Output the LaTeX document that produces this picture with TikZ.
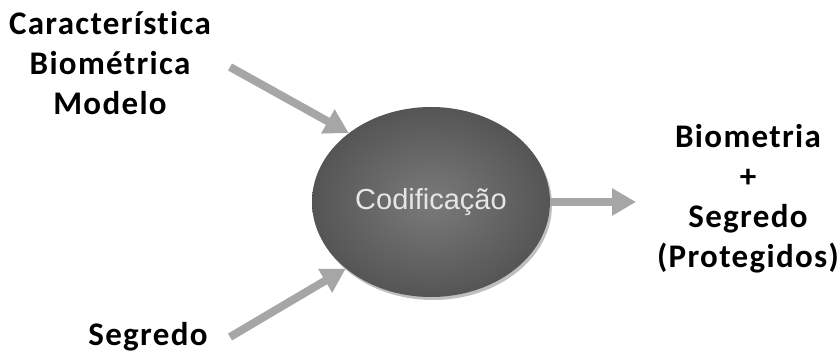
\documentclass[tikz,border=0pt]{standalone}
\usepackage{fontspec}
\setmainfont{Carlito}[Ligatures={NoCommon,NoRare},LetterSpace=4]
\newfontfamily\arialfont{Liberation Sans}[Ligatures={NoCommon}]
\usetikzlibrary{arrows.meta,shapes.geometric,shadows}
\definecolor{arrowgray}{HTML}{A6A6A6}
\definecolor{ballin}{HTML}{7A7A7A}
\definecolor{ballout}{HTML}{555555}
\definecolor{labelwhite}{HTML}{E6E6E6}
\tikzset{
  lbl/.style={font=\bfseries\fontsize{33}{40}\selectfont, align=center, inner sep=0pt, anchor=base},
  flow/.style={draw=arrowgray, line width=8pt, -{Triangle[width=26pt,length=24pt]}},
  encoder/.style={ellipse, minimum width=238pt, minimum height=190pt, inner sep=0pt,
    inner color=ballin, outer color=ballout, draw=none,
    font=\arialfont\fontsize{29}{34}\selectfont, text=labelwhite,
    drop shadow={shadow xshift=2pt, shadow yshift=-3pt, opacity=0.25, fill=black}}
}
\begin{document}
\begin{tikzpicture}[x=1pt,y=-1pt]
\useasboundingbox (0,0) rectangle (840,352);
\node[encoder] (enc) at (431,202) {Codificação};
\node[lbl] (caract) at (110,115) {Característica\\Biométrica\\Modelo};
\node[lbl] (seg) at (148,345) {Segredo};
\node[lbl] (out) at (748,268) {Biometria\\+\\Segredo\\(Protegidos)};
\coordinate (t1) at (230,67);
\coordinate (t2) at (230,337);
\coordinate (t3) at (636,202);
\draw[flow] (t1) -- (enc.140);
\draw[flow] (t2) -- (enc.218);
\draw[flow] (enc.east) -- (t3);
\end{tikzpicture}
\end{document}
